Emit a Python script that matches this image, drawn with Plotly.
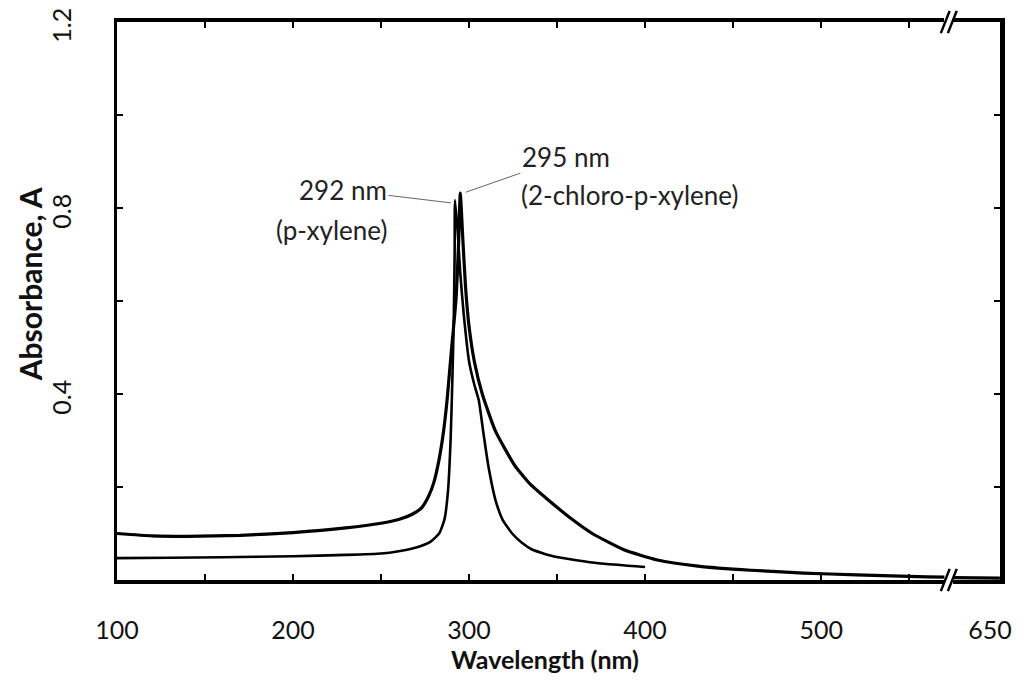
import plotly.graph_objects as go

# p-xylene spectrum
wl_pxy = [100, 130, 160, 200, 230, 250, 260, 270, 278, 283, 286, 288, 289.5, 290.5,
          291.3, 291.8, 292, 293.5, 295, 297, 300, 303, 305.5, 308, 311, 315, 319,
          324.5, 330, 336, 349, 373.5, 400]
abs_pxy = [0.047, 0.048, 0.049, 0.051, 0.054, 0.057, 0.062, 0.070, 0.082, 0.100, 0.130,
           0.190, 0.300, 0.430, 0.560, 0.700, 0.817, 0.750, 0.660, 0.570, 0.470, 0.420,
           0.387, 0.320, 0.244, 0.172, 0.130, 0.100, 0.080, 0.065, 0.050, 0.036, 0.028]

# 2-chloro-p-xylene spectrum
wl_cl = [100, 120, 140, 170, 200, 230, 250, 260, 268, 273, 277, 280, 283, 285.5, 287.5,
         290, 292.5, 294, 295, 296.5, 298, 300, 303, 307.5, 315, 326, 335, 345, 357,
         370, 388, 407, 430, 460, 490, 520, 550, 570, 620, 650]
abs_cl = [0.100, 0.095, 0.094, 0.096, 0.102, 0.112, 0.122, 0.130, 0.142, 0.155, 0.180,
          0.210, 0.260, 0.320, 0.387, 0.495, 0.600, 0.720, 0.832, 0.730, 0.630, 0.545,
          0.470, 0.400, 0.320, 0.246, 0.205, 0.172, 0.135, 0.100, 0.065, 0.043, 0.030,
          0.021, 0.015, 0.011, 0.008, 0.006, 0.005, 0.004]

x_ticks = [100, 150, 200, 250, 300, 350, 400, 450, 500, 550]
x_labels = ['100', '', '200', '', '300', '', '400', '', '500', '']
y_ticks = [0, 0.2, 0.4, 0.6, 0.8, 1.0, 1.2]
y_labels = ['', '', '0.4', '', '0.8', '', '1.2']

FONT = 'Lato'
fig = go.Figure()

line_cl = dict(color='black', width=3.2, shape='spline', smoothing=0.5)
line_px = dict(color='black', width=2.6, shape='spline', smoothing=0.5)

# 2-chloro curve on both halves of the broken axis
fig.add_trace(go.Scatter(x=wl_cl, y=abs_cl, mode='lines', xaxis='x', yaxis='y',
                         line=line_cl, showlegend=False))
fig.add_trace(go.Scatter(x=wl_cl, y=abs_cl, mode='lines', xaxis='x2', yaxis='y2',
                         line=line_cl, showlegend=False))
fig.add_trace(go.Scatter(x=wl_pxy, y=abs_pxy, mode='lines', xaxis='x', yaxis='y',
                         line=line_px, showlegend=False))

axcommon = dict(showgrid=False, zeroline=False, linecolor='black', automargin=False,
                tickcolor='black', ticklen=6, tickwidth=1.5,
                tickfont=dict(family=FONT, size=25, color='#111'))

fig.update_layout(
    width=1010, height=668,
    margin=dict(l=109, r=18, t=14, b=96),
    paper_bgcolor='white', plot_bgcolor='white',
    xaxis=dict(domain=[0, 0.937], range=[100, 570], tickvals=x_ticks, ticktext=x_labels,
               showline=True, linewidth=3.5, mirror='ticks', anchor='y', ticks='inside',
               ticklabelstandoff=25, **axcommon),
    xaxis2=dict(domain=[0.947, 1], range=[620, 650.05], tickvals=[650], ticktext=['650'],
                showline=True, linewidth=3.5, mirror=True, anchor='y2', ticks='',
                ticklabelstandoff=25, ticklabelshift=-10, **axcommon),
    yaxis=dict(domain=[0, 1], range=[0, 1.2], tickvals=y_ticks, ticktext=y_labels,
               tickangle=-90, showline=True, linewidth=3, anchor='x', ticks='inside',
               ticklabelstandoff=33, ticklabelshift=7, ticklabeloverflow='allow',
               **axcommon),
    yaxis2=dict(domain=[0, 1], range=[0, 1.2], tickvals=y_ticks, showticklabels=False,
                showline=True, linewidth=4.5, anchor='x2', side='right', ticks='inside',
                **axcommon),
)

ann_font = dict(family=FONT, size=26, color='#222')
annotations = [
    dict(text='<b>Absorbance, A</b>', xref='paper', yref='paper', x=-0.0985, y=0.53,
         xanchor='center', yanchor='middle', textangle=-90, showarrow=False,
         font=dict(family=FONT, size=30, color='#111')),
    dict(text='<b>Wavelength (nm)</b>', xref='paper', yref='paper', x=0.485, y=-0.142,
         xanchor='center', yanchor='middle', showarrow=False,
         font=dict(family=FONT, size=25, color='#111')),
    dict(text='292 nm', x=289.7, y=0.811, xref='x', yref='y', ax=-108, ay=-13,
         showarrow=True, arrowhead=0, arrowwidth=1, arrowcolor='#666', font=ann_font),
    dict(text='(p-xylene)', x=254.6, y=0.753, xref='x', yref='y', xanchor='right',
         yanchor='middle', showarrow=False, font=ann_font),
    dict(text='295 nm', x=298.2, y=0.834, xref='x', yref='y', ax=100, ay=-35,
         showarrow=True, arrowhead=0, arrowwidth=1, arrowcolor='#666', font=ann_font),
    dict(text='(2-chloro-p-xylene)', x=328.2, y=0.828, xref='x', yref='y',
         xanchor='left', yanchor='middle', showarrow=False, font=ann_font),
]

# axis break marks "//" on the top and bottom frame lines
shapes = []
for ypos in (0, 1):
    for cx in (0.938, 0.946):
        shapes.append(dict(type='line', xref='paper', yref='paper',
                           x0=cx - 0.005, x1=cx + 0.005, y0=ypos - 0.02, y1=ypos + 0.02,
                           line=dict(color='black', width=2.5)))

fig.update_layout(annotations=annotations, shapes=shapes)

fig.write_html("out.html")
